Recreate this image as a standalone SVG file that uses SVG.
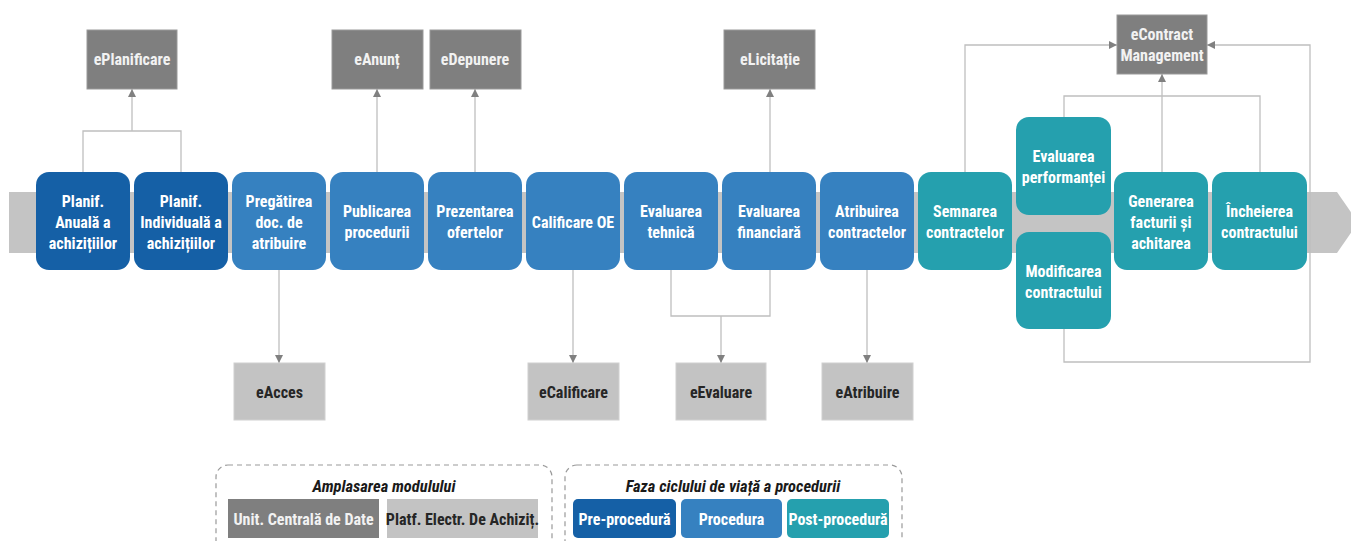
<svg xmlns="http://www.w3.org/2000/svg" width="1351" height="541" viewBox="0 0 1351 541">
<defs>
<marker id="ah" viewBox="0 0 10 10" refX="10" refY="5" markerWidth="8" markerHeight="8" markerUnits="userSpaceOnUse" orient="auto">
<path d="M0,0 L10,5 L0,10 z" fill="#808080"/>
</marker>
<style>
text{font-family:"Liberation Sans Narrow","Roboto Condensed","Liberation Sans",Arial,sans-serif;font-weight:bold;font-size:16px;text-anchor:middle}
.pre{fill:#1560A6}
.proc{fill:#3681C0}
.post{fill:#25A0AE}
.w{fill:#FFFFFF}
.top{fill:#7F7F7F;stroke:#9A9A9A;stroke-width:1}
.bot{fill:#C3C3C3;stroke:#D0D0D0;stroke-width:1}
.tw{fill:#F2F2F2}
.td{fill:#262626}
.ln{fill:none;stroke:#BFBFBF;stroke-width:1.3}
.la{fill:none;stroke:#BFBFBF;stroke-width:1.3;marker-end:url(#ah)}
.dash{fill:none;stroke:#999999;stroke-width:1.2;stroke-dasharray:5,4}
.it{font-style:italic;font-size:16.5px;fill:#1A1A1A}
</style>
</defs>
<rect width="1351" height="541" fill="#FFFFFF"/>
<!-- band -->
<polygon points="9,192 1337,192 1358,222.5 1337,253 9,253" fill="#C4C4C4"/>

<!-- connectors -->
<g id="connectors">
<path class="ln" d="M83,172 V131 H181 V172"/>
<path class="la" d="M132,131 V89"/>
<path class="la" d="M377,172 V89"/>
<path class="la" d="M475,172 V89"/>
<path class="la" d="M770,172 V89"/>
<path class="la" d="M279,270 V363"/>
<path class="la" d="M573,270 V363"/>
<path class="ln" d="M671,270 V316 H770 V270"/>
<path class="la" d="M721,316 V363"/>
<path class="la" d="M867,270 V363"/>
<path class="la" d="M965,172 V45 H1117"/>
<path class="la" d="M1064,329 V362 H1310 V45 H1207"/>
<path class="ln" d="M1064,117 V96 H1260 V172"/>
<path class="la" d="M1162,172 V74"/>
</g>

<!-- top modules -->
<g id="m-eplanificare"><rect class="top" x="87" y="30" width="90" height="59"/><text class="tw" x="132" y="65">ePlanificare</text></g>
<g id="m-eanunt"><rect class="top" x="332" y="30" width="91" height="59"/><text class="tw" x="377" y="65">eAnunț</text></g>
<g id="m-edepunere"><rect class="top" x="430" y="30" width="91" height="59"/><text class="tw" x="475" y="65">eDepunere</text></g>
<g id="m-elicitatie"><rect class="top" x="724" y="30" width="91" height="59"/><text class="tw" x="770" y="65">eLicitație</text></g>
<g id="m-econtract"><rect class="top" x="1117" y="15" width="90" height="59"/><text class="tw" x="1162" y="40">eContract</text><text class="tw" x="1162" y="61">Management</text></g>

<!-- bottom modules -->
<g id="m-eacces"><rect class="bot" x="234" y="363" width="91" height="57"/><text class="td" x="279.5" y="398">eAcces</text></g>
<g id="m-ecalificare"><rect class="bot" x="528" y="363" width="91" height="57"/><text class="td" x="573.5" y="398">eCalificare</text></g>
<g id="m-eevaluare"><rect class="bot" x="676" y="363" width="90" height="57"/><text class="td" x="721" y="398">eEvaluare</text></g>
<g id="m-eatribuire"><rect class="bot" x="822" y="363" width="91" height="57"/><text class="td" x="867.5" y="398">eAtribuire</text></g>

<!-- process steps -->
<g id="n-planif-anuala"><rect class="pre" x="36" y="172" width="94" height="98" rx="13"/><text class="w" x="83" y="207">Planif.</text><text class="w" x="83" y="228">Anuală a</text><text class="w" x="83" y="249">achizițiilor</text></g>
<g id="n-planif-individuala"><rect class="pre" x="134" y="172" width="94" height="98" rx="13"/><text class="w" x="181" y="207">Planif.</text><text class="w" x="181" y="228">Individuală a</text><text class="w" x="181" y="249">achizițiilor</text></g>
<g id="n-pregatirea"><rect class="proc" x="232" y="172" width="94" height="98" rx="13"/><text class="w" x="279" y="207">Pregătirea</text><text class="w" x="279" y="228">doc. de</text><text class="w" x="279" y="249">atribuire</text></g>
<g id="n-publicarea"><rect class="proc" x="330" y="172" width="94" height="98" rx="13"/><text class="w" x="377" y="217">Publicarea</text><text class="w" x="377" y="238">procedurii</text></g>
<g id="n-prezentarea"><rect class="proc" x="428" y="172" width="94" height="98" rx="13"/><text class="w" x="475" y="217">Prezentarea</text><text class="w" x="475" y="238">ofertelor</text></g>
<g id="n-calificare"><rect class="proc" x="526" y="172" width="94" height="98" rx="13"/><text class="w" x="573" y="228">Calificare OE</text></g>
<g id="n-eval-tehnica"><rect class="proc" x="624" y="172" width="94" height="98" rx="13"/><text class="w" x="671" y="217">Evaluarea</text><text class="w" x="671" y="238">tehnică</text></g>
<g id="n-eval-financiara"><rect class="proc" x="722" y="172" width="94" height="98" rx="13"/><text class="w" x="769" y="217">Evaluarea</text><text class="w" x="769" y="238">financiară</text></g>
<g id="n-atribuirea"><rect class="proc" x="820" y="172" width="94" height="98" rx="13"/><text class="w" x="867" y="217">Atribuirea</text><text class="w" x="867" y="238">contractelor</text></g>
<g id="n-semnarea"><rect class="post" x="918" y="172" width="94" height="98" rx="13"/><text class="w" x="965" y="217">Semnarea</text><text class="w" x="965" y="238">contractelor</text></g>
<g id="n-eval-perf"><rect class="post" x="1016" y="117" width="95" height="98" rx="13"/><text class="w" x="1063.5" y="162">Evaluarea</text><text class="w" x="1063.5" y="183">performanței</text></g>
<g id="n-modificarea"><rect class="post" x="1016" y="232" width="95" height="97" rx="13"/><text class="w" x="1063.5" y="277">Modificarea</text><text class="w" x="1063.5" y="298">contractului</text></g>
<g id="n-generarea"><rect class="post" x="1114" y="172" width="94" height="98" rx="13"/><text class="w" x="1161" y="207">Generarea</text><text class="w" x="1161" y="228">facturii și</text><text class="w" x="1161" y="249">achitarea</text></g>
<g id="n-incheierea"><rect class="post" x="1212" y="172" width="95" height="98" rx="13"/><text class="w" x="1259.5" y="217">Încheierea</text><text class="w" x="1259.5" y="238">contractului</text></g>

<!-- legend -->
<g id="legend-amplasare">
<rect class="dash" x="216" y="465" width="336" height="90" rx="12"/>
<text class="it" x="384" y="492">Amplasarea modulului</text>
<rect x="228" y="499" width="151" height="39" fill="#7F7F7F"/>
<text class="tw" x="303.5" y="525">Unit. Centrală de Date</text>
<rect x="387" y="499" width="151" height="39" fill="#C3C3C3"/>
<text class="td" x="462.5" y="525">Platf. Electr. De Achiziț.</text>
</g>
<g id="legend-faza">
<rect class="dash" x="565" y="465" width="337" height="90" rx="12"/>
<text class="it" x="733" y="492">Faza ciclului de viață a procedurii</text>
<rect class="pre" x="573" y="499" width="103" height="39" rx="5"/>
<text class="w" x="624.5" y="525">Pre-procedură</text>
<rect class="proc" x="681" y="499" width="101" height="39" rx="5"/>
<text class="w" x="731.5" y="525">Procedura</text>
<rect class="post" x="787" y="499" width="102" height="39" rx="5"/>
<text class="w" x="838" y="525">Post-procedură</text>
</g>
</svg>
